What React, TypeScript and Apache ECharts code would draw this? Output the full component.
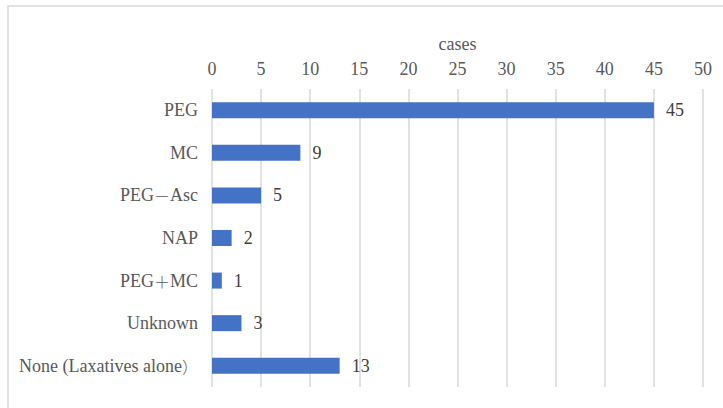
import React, { useEffect, useRef } from "react";
import * as echarts from "echarts";

const categories = ["PEG", "MC", "PEG－Asc", "NAP", "PEG＋MC", "Unknown", "None (Laxatives alone）"];
const values = [45, 9, 5, 2, 1, 3, 13];
const axisName = "cases";

const FONT = "Liberation Serif";
const CJK = "Noto Sans CJK JP";
const FS = 18;

function fmt(v: string) {
  return v
    .split(/([\uFF00-\uFFEF]+)/)
    .filter((s) => s.length > 0)
    .map((s) => (/[\uFF00-\uFFEF]/.test(s) ? `{c|${s}}` : `{a|${s}}`))
    .join("");
}

export default function App() {
  const ref = useRef<HTMLDivElement>(null);
  useEffect(() => {
    document.body.style.margin = "0";
    const chart = echarts.init(ref.current!, undefined, { renderer: "svg" });
    chart.setOption({
      animation: false,
      backgroundColor: "#ffffff",
      textStyle: { fontFamily: FONT },
      graphic: [
        {
          type: "rect",
          shape: { x: 8, y: 6, width: 740, height: 430 },
          style: { fill: "none", stroke: "#d9d9d9", lineWidth: 1.5 },
          silent: true,
        },
      ],
      grid: { left: 212, right: 20, top: 89, bottom: 21, containLabel: false },
      xAxis: {
        type: "value",
        position: "top",
        min: 0,
        max: 50,
        interval: 5,
        name: axisName,
        nameLocation: "middle",
        nameGap: 36,
        nameTextStyle: { color: "#595959", fontSize: FS, fontFamily: FONT },
        axisLine: { show: false },
        axisTick: { show: false },
        axisLabel: { color: "#595959", fontSize: FS, margin: 11, fontFamily: FONT },
        splitLine: { show: true, lineStyle: { color: "#d9d9d9", width: 1.5 } },
      },
      yAxis: {
        type: "category",
        inverse: true,
        data: categories,
        axisLine: { show: false },
        axisTick: { show: false },
        axisLabel: {
          color: "#595959",
          fontSize: FS,
          margin: 14,
          fontFamily: FONT,
          formatter: fmt,
          rich: {
            a: { color: "#595959", fontSize: FS, fontFamily: FONT },
            c: { color: "#595959", fontSize: 16, fontFamily: CJK, fontWeight: 300 },
          },
        },
        splitLine: { show: false },
      },
      series: [
        {
          type: "bar",
          data: values,
          barWidth: 16,
          itemStyle: { color: "#4472C4" },
          label: {
            show: true,
            position: "right",
            distance: 12,
            color: "#404040",
            fontSize: FS,
            fontFamily: FONT,
          },
        },
      ],
    });
    return () => chart.dispose();
  }, []);
  return (
    <div
      ref={ref}
      style={{ position: "fixed", left: 0, top: 0, width: 723, height: 408 }}
    />
  );
}
